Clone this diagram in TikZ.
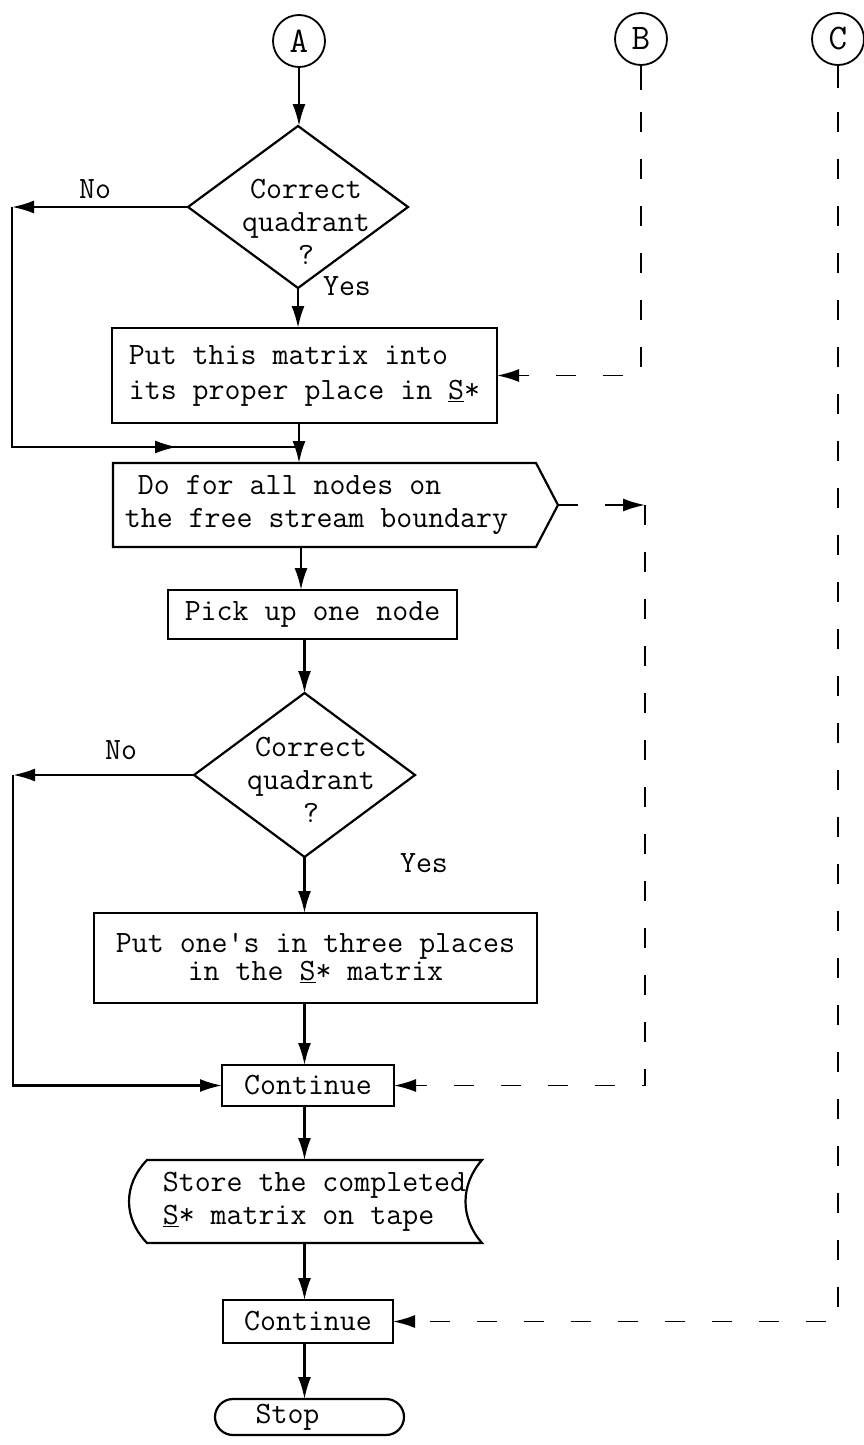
\documentclass[tikz,border=0pt]{standalone}
\usepackage{fontspec}
\usetikzlibrary{arrows.meta,shapes.geometric,shapes.misc,calc}
\newcommand{\twfont}[1][33]{\ttfamily\fontsize{31}{#1}\selectfont\addfontfeature{FakeBold=2.5}}
\begin{document}
\begin{tikzpicture}[x=1pt,y=-1pt,
  every node/.style={font=\twfont},
  ln/.style={line width=2.2pt},
  box/.style={draw, ln, rectangle, inner sep=0pt, outer sep=0pt},
  dia/.style={draw, ln, diamond, minimum width=220pt, minimum height=162pt, inner sep=0pt, outer sep=0pt},
  conn/.style={draw, line width=1.8pt, circle, minimum size=52pt, inner sep=0pt, outer sep=0pt,
               font={\ttfamily\fontsize{36}{36}\selectfont\addfontfeature{FakeBold=2.5}}},
  arr/.style={-{Latex[length=22pt,width=13pt]}},
  dsh/.style={line width=1.8pt, dash pattern=on 20pt off 27pt},
  lbl/.style={inner sep=0pt, outer sep=0pt}]
\useasboundingbox (0,0) rectangle (864,1445);

% connectors (entry points)
\node[conn] (A) at (299,41) {A};
\node[conn] (B) at (641,39) {B};
\node[conn] (C) at (838,39) {C};

% first decision
\node[dia] (d1) at (298,207) {};
\node[lbl, align=center] (d1t) at (306,222) {Correct\\quadrant\\?};
\node[lbl] (no1) at (95,189) {No};
\node[lbl] (yes1) at (347,286) {Yes};

% put matrix box
\node[box, minimum width=385pt, minimum height=95pt, align=left,
      font={\twfont[35]}] (put) at (304.5,375.5)
      {Put this matrix into\\its proper place in \underline{S}*};

% do-loop box
\node[lbl, minimum width=423pt, minimum height=84pt, align=left] (do) at (324.5,505)
      {\hspace*{13pt}Do for all nodes on\\the free stream boundary\hspace*{16pt}};
\coordinate (dotip) at ($(do.east)+(22,0)$);
\draw[ln] (do.north west) -- (do.north east) -- (dotip) -- (do.south east) -- (do.south west) -- cycle;

% pick up
\node[box, minimum width=289pt, minimum height=49pt] (pick) at (312.5,614.5) {Pick up one node};

% second decision
\node[dia, minimum width=221pt, minimum height=164pt] (d2) at (304.5,775) {};
\node[lbl, align=center] (d2t) at (311,780) {Correct\\quadrant\\?};
\node[lbl] (no2) at (121,750) {No};
\node[lbl] (yes2) at (424,863) {Yes};

% put ones box
\node[box, minimum width=443pt, minimum height=90pt, align=center,
      font={\twfont[28]}] (b3) at (315.5,958)
      {Put one's in three places\\in the \underline{S}* matrix};

% continue 1
\node[box, minimum width=172pt, minimum height=41pt] (c1) at (308,1085.5) {Continue};

% tape store
\node[lbl, minimum width=335pt, minimum height=83pt, align=left] (tape) at (314.5,1201.5)
      {Store the completed\\\underline{S}* matrix on tape};
\draw[ln] (tape.north west) -- (tape.north east)
   .. controls +(-22,25) and +(-22,-25) .. (tape.south east)
   -- (tape.south west)
   .. controls +(-24,-25) and +(-24,25) .. (tape.north west) -- cycle;

% continue 2
\node[box, minimum width=170pt, minimum height=43pt] (c2) at (308,1321.5) {Continue};

% stop
\node[draw, ln, rounded rectangle, minimum width=189pt, minimum height=36pt, inner sep=0pt, outer sep=0pt]
      (stop) at (309.5,1417) {Stop\hspace*{44pt}};

% solid connectors
\coordinate (J1) at (299,447);
\coordinate (L1) at (12,207);
\coordinate (M1) at (177,447);
\coordinate (K2) at (301,0);
\coordinate (L2) at (13,775);

\draw[ln,arr] (A.south) -- (A.south |- d1.north);
\draw[ln,arr] (d1.south) -- (d1.south |- put.north);
\draw[ln,arr] (J1 |- put.south) -- (J1 |- do.north);
\draw[ln,arr] (d1.west) -- (L1);
\draw[ln] (L1) |- (J1);
\draw[ln,arr] (L1 |- J1) -- (M1);
\draw[ln,arr] (K2 |- do.south) -- (K2 |- pick.north);
\draw[ln,arr] (d2.north |- pick.south) -- (d2.north);
\draw[ln,arr] (d2.south) -- (d2.south |- b3.north);
\draw[ln,arr] (d2.west) -- (L2);
\draw[ln,arr] (L2) |- (c1.west);
\draw[ln,arr] (d2.south |- b3.south) -- (d2.south |- c1.north);
\draw[ln,arr] (d2.south |- c1.south) -- (d2.south |- tape.north);
\draw[ln,arr] (d2.south |- tape.south) -- (d2.south |- c2.north);
\draw[ln,arr] (d2.south |- c2.south) -- (d2.south |- stop.north);

% dashed connectors
\coordinate (Bs) at (641,90);
\coordinate (Cs) at (838,88);
\coordinate (DK) at (645,505);
\draw[dsh,arr] (B.south) |- (put.east);
\draw[ln] (B.south) -- (Bs);
\draw[dsh,arr] (dotip) -- (DK);
\draw[dsh,arr] (DK) |- (c1.east);
\draw[dsh,arr] (C.south) |- (c2.east);
\draw[ln] (C.south) -- (Cs);
\end{tikzpicture}
\end{document}
